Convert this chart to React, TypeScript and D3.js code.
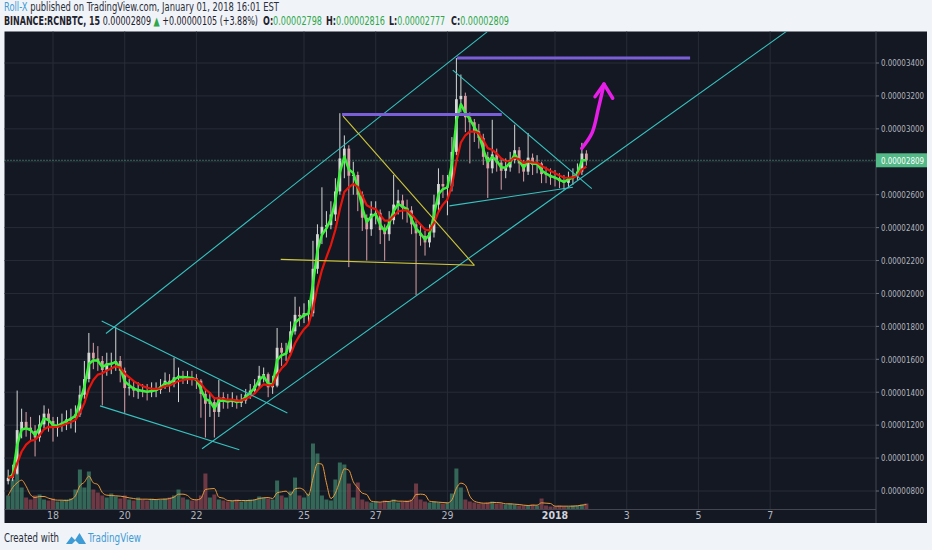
import React, { useEffect } from "react";
import * as d3 from "d3";

// RCN/BTC, prices in satoshi (1e-8 BTC), 3h candles from Dec 16 18:00 UTC
const candleStart = Date.UTC(2017, 11, 16, 18);
const candleHours = 3;
const firstOpen = 860;

const closes = [
  880, 905, 1170, 1220, 1185, 1165, 1125, 1205, 1270, 1225,
  1185, 1195, 1215, 1235, 1245, 1265, 1385, 1480, 1640, 1605,
  1590, 1535, 1575, 1575, 1590, 1530, 1425, 1430, 1410, 1410,
  1405, 1400, 1410, 1415, 1435, 1470, 1450, 1490, 1500, 1490,
  1490, 1485, 1470, 1390, 1330, 1340, 1280, 1370, 1350, 1340,
  1355, 1335, 1350, 1385, 1410, 1440, 1500, 1510, 1430, 1440,
  1670, 1640, 1640, 1770, 1870, 1860, 1880, 1880, 2150, 2360,
  2405, 2415, 2480, 2620, 2820, 2880, 2715, 2720, 2600, 2460,
  2390, 2485, 2490, 2385, 2360, 2445, 2540, 2565, 2520, 2505,
  2420, 2365, 2350, 2310, 2370, 2540, 2665, 2650, 2650, 2860,
  3180, 3200, 3070, 3040, 2985, 2945, 2830, 2760, 2845, 2795,
  2745, 2765, 2810, 2870, 2790, 2740, 2825, 2780, 2790, 2725,
  2720, 2705, 2700, 2682, 2672, 2700, 2710, 2740, 2850, 2809,
];

const highs = [
  930, 960, 1410, 1300, 1280, 1250, 1200, 1260, 1320, 1300,
  1250, 1250, 1270, 1290, 1300, 1320, 1440, 1590, 1760, 1700,
  1680, 1620, 1640, 1640, 1795, 1620, 1550, 1480, 1470, 1460,
  1450, 1450, 1460, 1460, 1480, 1520, 1510, 1610, 1550, 1530,
  1530, 1530, 1510, 1480, 1420, 1400, 1370, 1475, 1400, 1390,
  1400, 1380, 1390, 1420, 1450, 1480, 1560, 1550, 1520, 1500,
  1790, 1700, 1700, 1830, 1980, 1920, 1940, 1960, 2320, 2420,
  2645, 2500, 2560, 2700, 3095, 2960, 2900, 2800, 2740, 2620,
  2480, 2560, 2560, 2510, 2420, 2500, 2720, 2630, 2600, 2570,
  2530, 2440, 2420, 2380, 2420, 2600, 2760, 2720, 2720, 2950,
  3430, 3330, 3220, 3100, 3060, 3030, 2970, 2860, 3055, 2880,
  2820, 2820, 2860, 3025, 2890, 2810, 2975, 2850, 2840, 2800,
  2770, 2760, 2750, 2730, 2720, 2740, 2760, 2790, 2915, 2870,
];

const lows = [
  840, 860, 900, 1120, 1130, 1100, 1010, 1100, 1180, 1160,
  1100, 1130, 1160, 1170, 1180, 1155, 1250, 1360, 1460, 1540,
  1530, 1320, 1500, 1510, 1530, 1460, 1275, 1380, 1370, 1360,
  1370, 1350, 1370, 1370, 1390, 1420, 1400, 1430, 1340, 1450,
  1450, 1440, 1420, 1245, 1125, 1250, 1125, 1250, 1300, 1300,
  1310, 1300, 1310, 1330, 1360, 1390, 1420, 1460, 1370, 1390,
  1430, 1560, 1590, 1620, 1750, 1800, 1820, 1820, 1860, 2120,
  2300, 2340, 2390, 2440, 2600, 2700, 2160, 2600, 2500, 2380,
  2200, 2350, 2420, 2300, 2200, 2320, 2420, 2480, 2450, 2430,
  2360, 1990, 2290, 2230, 2280, 2340, 2500, 2580, 2475, 2620,
  2840, 3100, 2980, 2790, 2920, 2880, 2780, 2580, 2730, 2740,
  2630, 2700, 2740, 2790, 2730, 2680, 2720, 2720, 2730, 2670,
  2670, 2660, 2650, 2640, 2630, 2640, 2660, 2690, 2720, 2777,
];

const volumes = [
  14, 30, 36, 22, 12, 10, 14, 15, 10, 9,
  11, 8, 9, 10, 11, 20, 40, 22, 38, 20,
  17, 14, 12, 16, 13, 11, 14, 10, 9, 12,
  10, 9, 11, 10, 10, 11, 12, 14, 20, 12,
  10, 9, 10, 14, 36, 12, 15, 10, 9, 8,
  9, 10, 8, 9, 10, 10, 13, 12, 11, 10,
  29, 14, 12, 18, 32, 14, 12, 16, 66, 56,
  14, 10, 9, 30, 47, 45, 26, 12, 27, 10,
  8, 7, 8, 7, 9, 8, 10, 7, 8, 9,
  10, 26, 10, 8, 7, 8, 7, 6, 7, 16,
  41, 22, 10, 8, 7, 6, 6, 7, 8, 6,
  6, 5, 6, 5, 4, 4, 4, 5, 4, 11,
  4, 3, 3, 4, 3, 3, 4, 4, 5, 6,
];

const lastPrice = 2809;
const priceTicks = [800, 1000, 1200, 1400, 1600, 1800, 2000, 2200, 2400, 2600, 2800, 3000, 3200, 3400];

// header quote fields: [label, value, x, width]
const quoteFields: [string, string, number, number][] = [
  ["O:", "0.00002798", 263, 59],
  ["H:", "0.00002816", 326, 59],
  ["L:", "0.00002777", 389, 56],
  ["C:", "0.00002809", 451, 58],
];

const timeTicks: [number, string][] = [
  [Date.UTC(2017, 11, 18), "18"],
  [Date.UTC(2017, 11, 20), "20"],
  [Date.UTC(2017, 11, 22), "22"],
  [Date.UTC(2017, 11, 25), "25"],
  [Date.UTC(2017, 11, 27), "27"],
  [Date.UTC(2017, 11, 29), "29"],
  [Date.UTC(2018, 0, 1), "2018"],
  [Date.UTC(2018, 0, 3), "3"],
  [Date.UTC(2018, 0, 5), "5"],
  [Date.UTC(2018, 0, 7), "7"],
];

// drawings: [days after Dec 18 00:00 UTC, price]
const cyanLines: [number, number][][] = [
  [[1.478, 1757], [12.106, 3589]],
  [[4.156, 1057], [20.474, 3595]],
  [[1.358, 1832], [6.536, 1274]],
  [[1.311, 1317], [5.197, 1051]],
  [[11.149, 3357], [15.026, 2637]],
  [[11.054, 2532], [14.5, 2645]],
];
const purpleLines: [number, number][][] = [
  [[8.061, 3087], [12.516, 3087]],
  [[11.269, 3430], [17.768, 3430]],
];
const yellowLines: [number, number][][] = [
  [[8.089, 3077], [11.752, 2171]],
  [[6.351, 2207], [11.752, 2171]],
];
const arrowCurve: [number, number][] = [[14.745, 2882], [15.032, 2975], [15.213, 3127], [15.367, 3272]];
const arrowHead: [number, number][] = [[15.116, 3195], [15.367, 3272], [15.609, 3186]];

const ema = (vals: number[], n: number) => {
  const k = 2 / (n + 1);
  const out: number[] = [];
  vals.forEach((v, i) => out.push(i === 0 ? v : out[i - 1] + k * (v - out[i - 1])));
  return out;
};

const sma = (vals: number[], n: number) =>
  vals.map((_, i) => d3.mean(vals.slice(Math.max(0, i - n + 1), i + 1)) as number);

const fmt = (v: number) => (v * 1e-8).toFixed(8);

const BG = "#141823";
const GRID = "#272c37";
const AXIS_TXT = "#b2b5be";
const GREEN_TXT = "#2ea84a";
const NARROW = "'Liberation Sans Narrow', 'DejaVu Sans Condensed', Lato, sans-serif";
const L = 4.5, R = 876, T = 31.5, B = 509.5, PB = 523;

export default function App() {
  useEffect(() => {
    document.body.style.margin = "0";
    document.body.style.background = "#f0f3f8";
  }, []);

  const x = d3
    .scaleUtc()
    .domain([new Date(Date.UTC(2017, 11, 18)), new Date(Date.UTC(2018, 0, 1))])
    .range([53, 555]);
  const y = d3.scaleLinear().domain([800, 3400]).range([491, 63]);
  const v = d3.scaleLinear().domain([0, d3.max(volumes) as number]).range([B, B - 66]);

  const base = Date.UTC(2017, 11, 18);
  const dx = (d: number) => x(new Date(base + d * 86400000));
  const tx = (i: number) => x(new Date(candleStart + i * candleHours * 3600000));

  const candles = closes.map((c, i) => ({
    o: i === 0 ? firstOpen : closes[i - 1],
    c,
    h: highs[i],
    l: lows[i],
    vol: volumes[i],
  }));

  const fast = ema(closes, 2);
  const slow = ema(closes, 6);
  const volMa = sma(volumes, 3);

  const line = d3.line<number>().x((_, i) => tx(i)).y((d) => y(d));
  const volLine = d3.line<number>().x((_, i) => tx(i)).y((d) => v(d)).curve(d3.curveMonotoneX);
  const seg = d3.line<[number, number]>().x((d) => dx(d[0])).y((d) => y(d[1]));
  const curve = d3
    .line<[number, number]>()
    .x((d) => dx(d[0]))
    .y((d) => y(d[1]))
    .curve(d3.curveCatmullRom);

  const bw = 2.8;
  const adj = "spacingAndGlyphs";

  return (
    <svg width={932} height={550} style={{ display: "block", fontFamily: NARROW }}>
      <rect width={932} height={550} fill="#f0f3f8" />

      {/* header */}
      <text x={4} y={11} fontSize={11.5} textLength={275} lengthAdjust={adj} fill="#2a2e39">
        <tspan fill="#3d9bd6">Roll-X</tspan> published on TradingView.com, January 01, 2018 16:01 EST
      </text>
      <text x={4} y={25} fontSize={11.5} fill="#1e222d" textLength={254} lengthAdjust={adj}>
        <tspan fontWeight="bold">BINANCE:RCNBTC, 15</tspan> {fmt(lastPrice)}{" "}
        <tspan fill={GREEN_TXT}>▲</tspan> +0.00000105 (+3.88%)
      </text>
      {quoteFields.map(([lab, val, qx, qw]) => (
        <text key={lab} x={qx} y={25} fontSize={11.5} textLength={qw} lengthAdjust={adj} fill="#1e222d">
          <tspan fontWeight="bold">{lab}</tspan>
          <tspan fill={GREEN_TXT}>{val}</tspan>
        </text>
      ))}

      {/* chart panel */}
      <rect x={L} y={T} width={927 - L} height={PB - T} fill={BG} />
      <defs>
        <clipPath id="plot">
          <rect x={L} y={T} width={R - L} height={B - T} />
        </clipPath>
      </defs>

      {/* grid */}
      {priceTicks.map((p) => (
        <line key={p} x1={L} x2={R} y1={y(p)} y2={y(p)} stroke={GRID} strokeWidth={1} />
      ))}
      {timeTicks.map(([t]) => (
        <line key={t} x1={x(new Date(t))} x2={x(new Date(t))} y1={T} y2={B} stroke={GRID} strokeWidth={1} />
      ))}

      <g clipPath="url(#plot)">
        {/* volume */}
        {candles.map((d, i) => (
          <rect
            key={"v" + i}
            x={tx(i) - 2}
            y={v(d.vol)}
            width={4}
            height={B - v(d.vol)}
            fill={d.c >= d.o ? "#4a9c7c" : "#a8505a"}
            opacity={0.6}
          />
        ))}
        <path d={volLine(volMa) || ""} fill="none" stroke="#e89a3c" strokeWidth={1} />

        {/* candles */}
        {candles.map((d, i) => {
          const col = d.c >= d.o ? "#d3d6d3" : "#d9a0a7";
          const top = y(Math.max(d.o, d.c));
          const bot = y(Math.min(d.o, d.c));
          return (
            <g key={"c" + i}>
              <line x1={tx(i)} x2={tx(i)} y1={y(d.h)} y2={y(d.l)} stroke={col} strokeWidth={1} />
              <rect x={tx(i) - bw / 2} y={top} width={bw} height={Math.max(1, bot - top)} fill={col} />
            </g>
          );
        })}

        <path d={line(fast) || ""} fill="none" stroke="#3af23a" strokeWidth={2.5} strokeLinejoin="round" />
        <path d={line(slow) || ""} fill="none" stroke="#e8150c" strokeWidth={2.2} strokeLinejoin="round" />

        {/* drawings */}
        {cyanLines.map((s, i) => (
          <path key={"cy" + i} d={seg(s) || ""} stroke="#37c3c0" strokeWidth={1.1} fill="none" />
        ))}
        {yellowLines.map((s, i) => (
          <path key={"ye" + i} d={seg(s) || ""} stroke="#cfc83a" strokeWidth={1.1} fill="none" />
        ))}
        {purpleLines.map((s, i) => (
          <path key={"pu" + i} d={seg(s) || ""} stroke="#7b5fd9" strokeWidth={3} fill="none" />
        ))}
        <path d={curve(arrowCurve) || ""} stroke="#e61ee8" strokeWidth={3.5} fill="none" strokeLinecap="round" />
        <path d={seg(arrowHead) || ""} stroke="#e61ee8" strokeWidth={3.5} fill="none" strokeLinecap="round" strokeLinejoin="round" />

        {/* last price line */}
        <line x1={L} x2={R} y1={y(lastPrice)} y2={y(lastPrice)} stroke="#53b987" strokeWidth={1} strokeDasharray="1,2" />
      </g>

      {/* axes borders */}
      <line x1={R} x2={R} y1={T} y2={PB} stroke="#434651" strokeWidth={1} />
      <line x1={L} x2={R} y1={B} y2={B} stroke="#434651" strokeWidth={1} />

      {/* price axis */}
      {priceTicks
        .filter((p) => Math.abs(y(p) - y(lastPrice)) > 10)
        .map((p) => (
          <g key={"pt" + p}>
            <line x1={R} x2={R + 3} y1={y(p)} y2={y(p)} stroke="#6a6d78" />
            <text x={881} y={y(p)} dy="0.35em" fontSize={9.5} fill={AXIS_TXT} textLength={43} lengthAdjust={adj}>
              {fmt(p)}
            </text>
          </g>
        ))}
      <rect x={R} y={y(lastPrice) - 7} width={51} height={14} fill="#53b987" />
      <text x={881} y={y(lastPrice)} dy="0.35em" fontSize={9.5} fill="#ffffff" textLength={43} lengthAdjust={adj}>
        {fmt(lastPrice)}
      </text>

      {/* time axis */}
      {timeTicks.map(([t, label]) => (
        <text
          key={"tt" + t}
          x={x(new Date(t))}
          y={519}
          fontSize={10.5}
          textAnchor="middle"
          fill={label === "2018" ? "#d1d4dc" : AXIS_TXT}
          fontWeight={label === "2018" ? "bold" : "normal"}
        >
          {label}
        </text>
      ))}

      {/* footer */}
      <text x={4} y={542} fontSize={11.5} fill="#2a2e39" textLength={55} lengthAdjust={adj}>Created with</text>
      <path d="M66,544 L71.5,536.5 L75,540 L79.5,533 L86,544 Z M72,544 L75.5,540.5 L79,544 Z" fill="#3d9bd6" fillRule="evenodd" />
      <text x={88} y={542} fontSize={11.5} fill="#3d9bd6" textLength={53} lengthAdjust={adj}>TradingView</text>
    </svg>
  );
}
